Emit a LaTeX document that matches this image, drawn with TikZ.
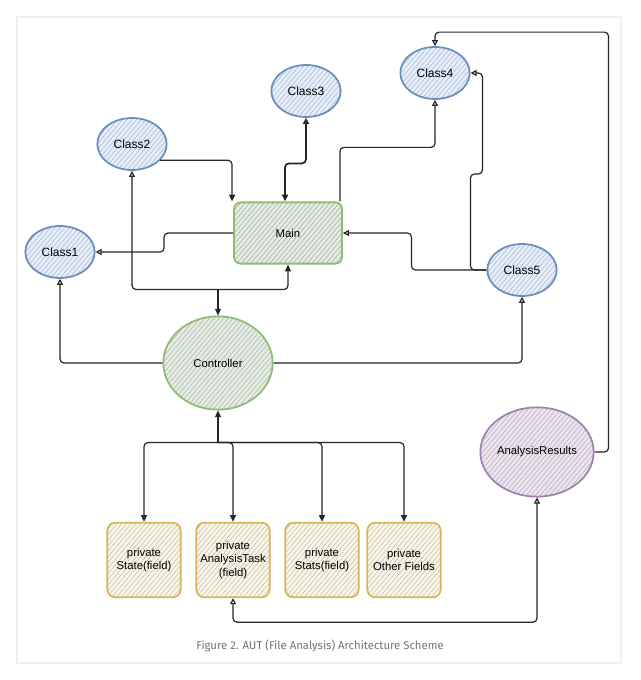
\documentclass[tikz,border=0pt]{standalone}
\usepackage{fontspec}
\setmainfont{Liberation Sans}
\newfontfamily\capfont{Fira Sans}
\usetikzlibrary{arrows.meta, patterns.meta, shapes.geometric, calc}

% sketch colours
\definecolor{clsBlue}{HTML}{6C8EBF}
\definecolor{clsBlueFill}{HTML}{E6EEFA}
\definecolor{mainGreen}{HTML}{82B366}
\definecolor{mainGreenFill}{HTML}{E4EDE2}
\definecolor{fieldYellow}{HTML}{D6B656}
\definecolor{fieldYellowFill}{HTML}{FBF5E4}
\definecolor{resPurple}{HTML}{9673A6}
\definecolor{resPurpleFill}{HTML}{ECE4EF}

\tikzset{
  % hatched fill, drawn under the border
  hatched/.style 2 args={preaction={fill=#1},
    preaction={pattern={Lines[angle=50,distance=2.7pt,line width=0.35pt]}, pattern color=#2}},
  classnode/.style={ellipse, draw=clsBlue, line width=1.3pt, hatched={clsBlueFill}{clsBlue!80!black!55},
    minimum width=52pt, minimum height=39pt, inner sep=0pt, font=\fontsize{9}{10}\selectfont},
  mainbox/.style={rectangle, rounded corners=5pt, draw=mainGreen!90!white, line width=1.4pt, hatched={mainGreenFill}{black!38},
    minimum width=81pt, minimum height=46pt, inner sep=0pt, font=\fontsize{8.5}{10}\selectfont},
  ctrlnode/.style={ellipse, draw=mainGreen!90!white, line width=1.3pt, hatched={mainGreenFill}{black!33},
    minimum width=82pt, minimum height=70pt, inner sep=0pt, font=\fontsize{8.5}{10}\selectfont},
  resnode/.style={ellipse, draw=resPurple!90!white, line width=1.3pt, hatched={resPurpleFill}{resPurple!60!black!48},
    minimum width=85pt, minimum height=67pt, inner sep=0pt, font=\fontsize{8.5}{10}\selectfont},
  fieldbox/.style={rectangle, rounded corners=6pt, draw=fieldYellow, line width=1.3pt, hatched={fieldYellowFill}{black!28},
    minimum width=55pt, minimum height=56pt, inner sep=0pt, align=center, font=\fontsize{8.5}{10}\selectfont},
  conn/.style={draw=black!85, line width=0.9pt, rounded corners=3pt},
  openarrow/.style={conn, -{Triangle[open,length=4.5pt,width=4.5pt]}},
  fillarrow/.style={conn, -{Triangle[length=5pt,width=4.5pt]}},
}

\begin{document}
\begin{tikzpicture}[x=0.75pt, y=-0.75pt]
    % page and frame
    \useasboundingbox (0,0) rectangle (640,680);
    \fill[white] (0,0) rectangle (640,680);
    \draw[black!6, line width=1pt] (17,17) rectangle (621,663);

    % classes
    \node[classnode] (Class1) at (60,252) {Class1};
    \node[classnode] (Class2) at (132,144) {Class2};
    \node[classnode] (Class3) at (306,91) {Class3};
    \node[classnode] (Class4) at (435,73) {Class4};
    \node[classnode] (Class5) at (522,270) {Class5};

    % main and controller
    \node[mainbox] (Main) at (288,233) {Main};
    \node[ctrlnode] (Controller) at (218,363) {Controller};
    \node[resnode] (Results) at (537,452) {AnalysisResults};

    % private fields
    \node[fieldbox] (fState) at (144,560) {private\\State(field)};
    \node[fieldbox] (fTask) at (233,560) {private\\AnalysisTask\\(field)};
    \node[fieldbox] (fStats) at (322,560) {private\\Stats(field)};
    \node[fieldbox] (fOther) at (404,560) {private\\Other Fields};

    % connectors around Main
    \draw[openarrow] (Main.west) -- ++(-69,0) |- (Class1.east);
    \draw[fillarrow] (Class2.-30) -| ($(Main.north west)+(-1,0)$);
    \draw[conn, line width=1.3pt, {Triangle[length=5pt,width=4.5pt]}-{Triangle[open,length=4.5pt,width=4.5pt]}]
        ($(Main.north)+(-3,0)$) -- ++(0,-38) -| (Class3.south);
    \draw[openarrow] ($(Main.north east)+(-3,0)$) -- ++(0,-54) -| (Class4.south);
    \draw[openarrow] (Class5.west) -- ++(-75,0) |- (Main.east);
    \draw[openarrow] (Class5.west) -- ++(-16,0) -- ++(0,-96) -- ++(12,0) |- (Class4.east);

    % controller up
    \coordinate (ctrlTop) at ($(Controller.north)+(0,-26)$);
    \draw[fillarrow] (ctrlTop) -- (Controller.north);
    \draw[openarrow] (ctrlTop) -| (Class2.south);
    \draw[fillarrow] (ctrlTop) -| (Main.south);
    \draw[openarrow] (Controller.west) -| (Class1.south);
    \draw[openarrow] (Controller.east) -| (Class5.south);

    % controller down to the fields
    \coordinate (ctrlBot) at ($(Controller.south)+(0,32)$);
    \draw[fillarrow] (ctrlBot) -- (Controller.south);
    \foreach \f in {fState, fTask, fStats, fOther}
        \draw[fillarrow] (ctrlBot) -| (\f.north);

    % results
    \draw[openarrow] (Results.east) -- ++(14,0) |- ($(Class4.north)+(0,-14)$) -- (Class4.north);
    \draw[conn, {Triangle[open,length=4.5pt,width=4.5pt]}-{Triangle[open,length=4.5pt,width=4.5pt]}]
        (fTask.south) -- ++(0,24) -| (Results.south);

    % caption
    \node[font=\capfont\fontsize{8.5}{10}\selectfont, text=black!55] (caption) at (320,646)
        {Figure 2. AUT (File Analysis) Architecture Scheme};
\end{tikzpicture}
\end{document}
